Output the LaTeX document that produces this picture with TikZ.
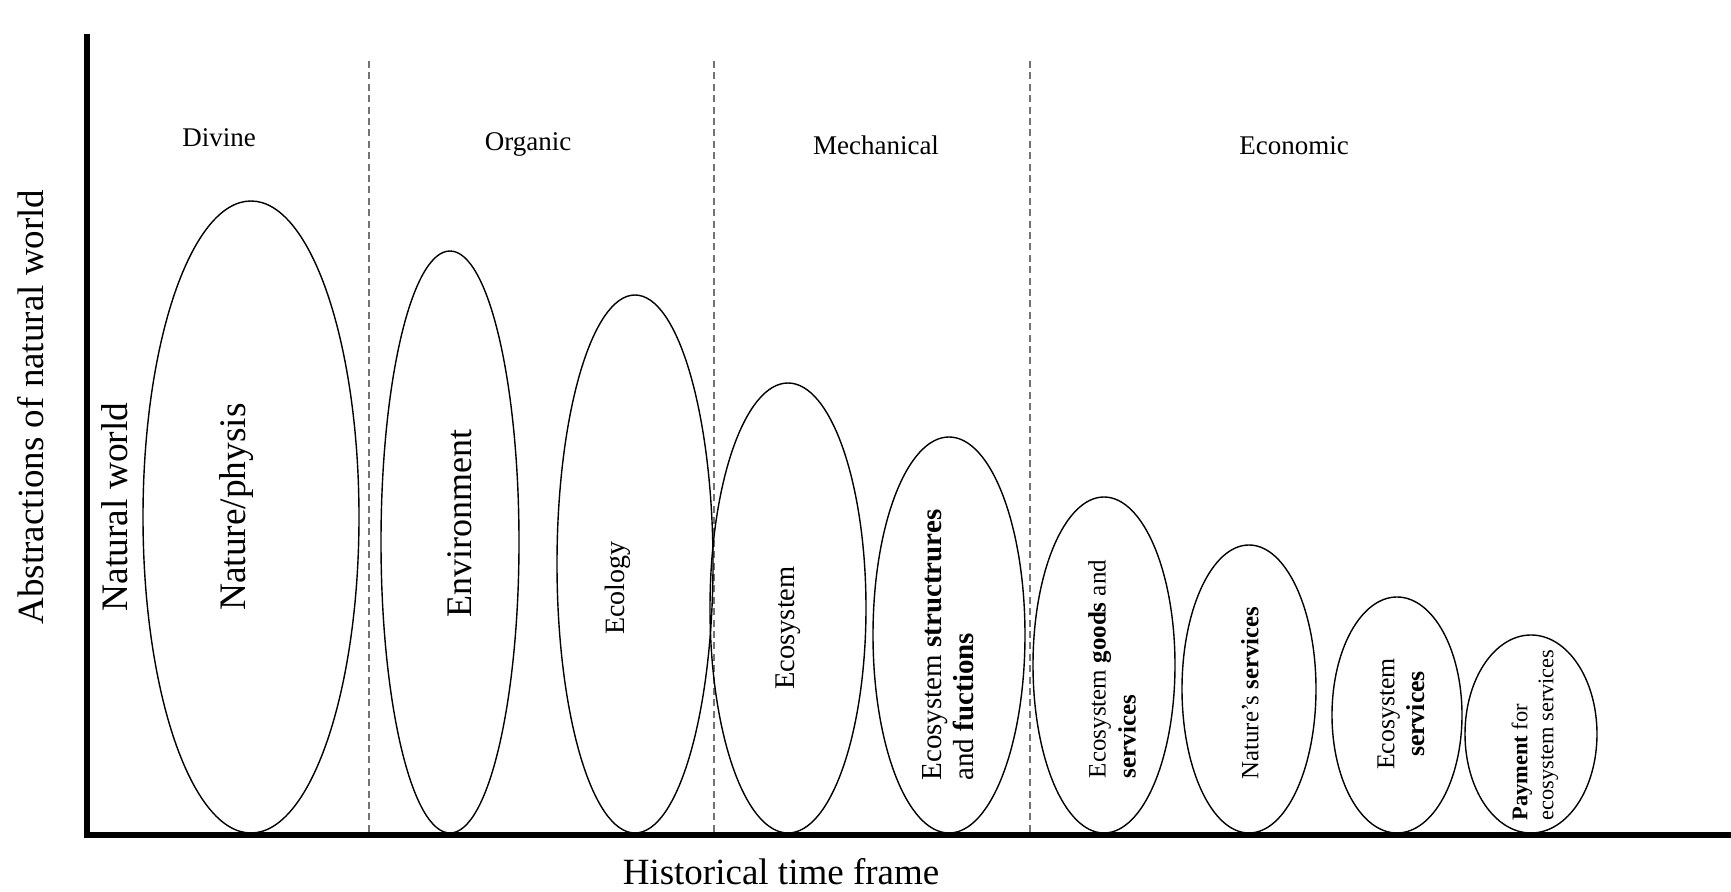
\documentclass[tikz,border=0pt]{standalone}
\usepackage{fontspec}
\setmainfont{Liberation Serif}
\usetikzlibrary{positioning,shapes.geometric}

\begin{document}
\begin{tikzpicture}[x=0.5pt,y=-0.5pt,
    bubble/.style={draw,ellipse,inner sep=0pt,line width=0.7pt},
    era/.style={anchor=base,font=\fontsize{13.5}{16}\selectfont},
    axislabel/.style={font=\fontsize{18.5}{22}\selectfont},
    vlabel/.style={rotate=90,inner sep=0pt,align=center},
    divider/.style={draw=black!55,line width=1.2pt,dash pattern=on 3.5pt off 2.2pt},
    axisline/.style={line width=2.6pt},
    ]
  \useasboundingbox (0,0) rectangle (1731,892);
  % axes
  \coordinate (top) at (87,34);
  \coordinate (O) at (87,835);
  \coordinate (end) at (1731,835);
  \draw[axisline] (top) -- (O) -- (end);
  \node[axislabel,rotate=90] (abstr) at (31,407) {Abstractions of natural world};
  \node[axislabel] (time) at (781,872) {Historical time frame};
  \node[axislabel,rotate=90,font=\fontsize{18.7}{22}\selectfont] (natworld) at (115,507) {Natural world};
  % eras
  \foreach \x/\n in {369/a,714/b,1030/c} {
    \coordinate (\n1) at (\x,61);
    \coordinate (\n2) at (\x,832);
    \draw[divider] (\n1) -- (\n2);
  }
  \node[era] (divine) at (219,147) {Divine};
  \node[era] (organic) at (528,151) {Organic};
  \node[era] (mech) at (876,155) {Mechanical};
  \node[era] (econ) at (1294,155) {Economic};
  % abstractions
  \node[bubble,minimum width=108pt,minimum height=316pt] (physis) at (251,517) {};
  \node[bubble,minimum width=69pt,minimum height=291pt] (env) at (450,542) {};
  \node[bubble,minimum width=78pt,minimum height=269pt] (eco) at (635,564) {};
  \node[bubble,minimum width=78pt,minimum height=225pt] (ecosys) at (788,608) {};
  \node[bubble,minimum width=76pt,minimum height=198pt] (struct) at (949,635) {};
  \node[bubble,minimum width=71pt,minimum height=168pt] (goods) at (1104,665) {};
  \node[bubble,minimum width=67pt,minimum height=144pt] (natserv) at (1249,689) {};
  \node[bubble,minimum width=65pt,minimum height=118pt] (esserv) at (1397,715) {};
  \node[bubble,minimum width=66pt,minimum height=99pt] (pes) at (1531,734) {};
  \node[vlabel,font=\fontsize{18.7}{20}\selectfont] (physist) at (237,507) {Nature/physis};
  \node[vlabel,font=\fontsize{18}{20}\selectfont] (envt) at (460,524) {Environment};
  \node[vlabel,font=\fontsize{14}{16}\selectfont] (ecot) at (618,588) {Ecology};
  \node[vlabel,font=\fontsize{14.25}{16}\selectfont] (ecosyst) at (788,628) {Ecosystem};
  \node[vlabel,align=left,font=\fontsize{14.5}{16}\selectfont] (structt) at (948,645)
    {Ecosystem \textbf{structrures}\\and \textbf{fuctions}};
  \node[vlabel,align=left,font=\fontsize{12.5}{15}\selectfont] (goodst) at (1112,669)
    {Ecosystem \textbf{goods} and\\\textbf{services}};
  \node[vlabel,font=\fontsize{12.4}{15}\selectfont] (natservt) at (1250,693) {Nature's \textbf{services}};
  \node[vlabel,font=\fontsize{12.9}{15}\selectfont] (esservt) at (1401,714) {Ecosystem\\\textbf{services}};
  \node[vlabel,align=left,font=\fontsize{11.2}{13}\selectfont] (pest) at (1535,735)
    {\textbf{Payment} for\\ecosystem services};
\end{tikzpicture}
\end{document}
